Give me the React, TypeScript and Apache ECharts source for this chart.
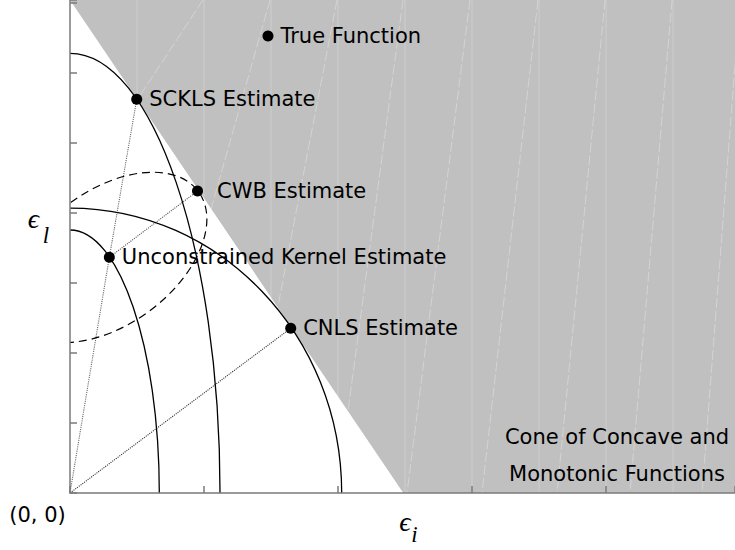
import React, { useEffect, useRef } from "react";
import * as echarts from "echarts";

// ---- axis extents (x in grid units, y in tick units) ----
const xMax = 9.925;
const yMax = 7.043;
const xTickInterval = 2;
const yTickInterval = 1;

// ---- estimates (points) ----
const pointNames = [
  "True Function",
  "SCKLS Estimate",
  "CWB Estimate",
  "Unconstrained Kernel Estimate",
  "CNLS Estimate",
];
const pointX = [2.955, 0.996, 1.903, 0.587, 3.294];
const pointY = [6.529, 5.624, 4.314, 3.367, 2.353];

// ---- contour curves (quarter ellipses about the origin), intercepts ----
const contourXIntercepts = [2.239, 4.055, 1.333];
const contourYIntercepts = [6.281, 4.071, 3.757];

// ---- dashed confidence ellipse around the unconstrained estimate ----
const ellipseSemiMajor = [1.652];
const ellipseSemiMinor = [1.0];
const ellipseAngleDeg = [36.5];

// ---- cone of concave and monotonic functions ----
const coneX = [0, 4.975, xMax, xMax];
const coneY = [yMax, 0, 0, yMax];

// ---- faint lines inside the cone ----
const gridLineX = [1, 2, 3, 4, 5, 6, 7, 8, 9];
const slantTopX = [1.985, 2.985, 3.985, 4.97, 5.97, 6.985, 7.985, 8.985, 10.0];
const slantBottomX = [-2.866, 0.91, 2.567, 3.985, 5.03, 6.149, 7.269, 8.358, 9.433];

const SANS = '"DejaVu Sans", sans-serif';
const SERIF = '"Liberation Serif", "DejaVu Serif", serif';

export default function App() {
  const ref = useRef<HTMLDivElement>(null);

  useEffect(() => {
    const chart = echarts.init(ref.current as HTMLDivElement, null, { renderer: "svg" });
    const pt = (name: string) => {
      const i = pointNames.indexOf(name);
      return [pointX[i], pointY[i]];
    };
    const origin = [0, 0];
    const U = pt("Unconstrained Kernel Estimate");

    const scatterData = pointNames.map((n, i) => ({
      name: n,
      value: [pointX[i], pointY[i]],
      label: n === "CWB Estimate" ? { distance: 14 } : undefined,
    }));

    const axisLine = { show: true, onZero: false, lineStyle: { color: "#7a7a7a", width: 1.5 } };
    const axisTick = { show: true, inside: true, length: 7, lineStyle: { color: "#7a7a7a", width: 1.5 } };

    const text = (x: number, y: number, t: string, font: string, extra: any = {}) => ({
      type: "text",
      x,
      y,
      z: 20,
      style: {
        text: t,
        fill: "#000",
        font,
        textAlign: "center",
        textVerticalAlign: "middle",
        align: "center",
        verticalAlign: "middle",
        ...extra,
      },
    });

    const option: any = {
      animation: false,
      backgroundColor: "#ffffff",
      grid: { left: 70, right: 0, top: 0, bottom: 57, containLabel: false },
      xAxis: {
        type: "value",
        min: 0,
        max: xMax,
        interval: xTickInterval,
        z: 10,
        axisLine,
        axisTick,
        axisLabel: { show: false },
        splitLine: { show: false },
      },
      yAxis: {
        type: "value",
        min: 0,
        max: yMax,
        interval: yTickInterval,
        z: 10,
        axisLine,
        axisTick,
        axisLabel: { show: false },
        splitLine: { show: false },
      },
      series: [
        {
          type: "custom",
          name: "cone",
          coordinateSystem: "cartesian2d",
          silent: true,
          z: 1,
          clip: true,
          data: [[0, 0]],
          encode: { x: 0, y: 1 },
          renderItem: (_p: any, api: any) => ({
            type: "polygon",
            shape: { points: coneX.map((x, i) => api.coord([x, coneY[i]])) },
            style: { fill: "#c0c0c0", stroke: "none" },
          }),
        },
        {
          type: "custom",
          name: "gridlines",
          coordinateSystem: "cartesian2d",
          silent: true,
          z: 2,
          clip: true,
          data: gridLineX.map((x) => [x, 0, x, yMax]),
          encode: { x: [0, 2], y: [1, 3] },
          renderItem: (_p: any, api: any) => {
            const a = api.coord([api.value(0), api.value(1)]);
            const b = api.coord([api.value(2), api.value(3)]);
            return {
              type: "line",
              shape: { x1: a[0], y1: a[1], x2: b[0], y2: b[1] },
              style: { stroke: "rgba(255,255,255,0.22)", lineWidth: 1 },
            };
          },
        },
        {
          type: "custom",
          name: "slants",
          coordinateSystem: "cartesian2d",
          silent: true,
          z: 2,
          clip: true,
          data: slantTopX.map((x, i) => [x, yMax, slantBottomX[i], 0]),
          encode: { x: [0, 2], y: [1, 3] },
          renderItem: (_p: any, api: any) => {
            const a = api.coord([api.value(0), api.value(1)]);
            const b = api.coord([api.value(2), api.value(3)]);
            return {
              type: "line",
              shape: { x1: a[0], y1: a[1], x2: b[0], y2: b[1] },
              style: { stroke: "rgba(255,255,255,0.3)", lineWidth: 1, lineDash: [10, 3] },
            };
          },
        },
        {
          type: "custom",
          name: "contours",
          coordinateSystem: "cartesian2d",
          silent: true,
          z: 4,
          clip: true,
          data: contourXIntercepts.map((x, i) => [x, contourYIntercepts[i]]),
          encode: { x: 0, y: 1 },
          renderItem: (_p: any, api: any) => {
            const o = api.coord([0, 0]);
            const rx = api.size([api.value(0), 0])[0];
            const ry = api.size([0, api.value(1)])[1];
            return {
              type: "ellipse",
              shape: { cx: o[0], cy: o[1], rx, ry },
              style: { fill: "none", stroke: "#000", lineWidth: 1.3 },
            };
          },
        },
        {
          type: "custom",
          name: "confidence",
          coordinateSystem: "cartesian2d",
          silent: true,
          z: 4,
          clip: true,
          data: ellipseSemiMajor.map((a, i) => [U[0], U[1], a, ellipseSemiMinor[i], ellipseAngleDeg[i]]),
          encode: { x: 0, y: 1 },
          renderItem: (_p: any, api: any) => {
            const c = api.coord([api.value(0), api.value(1)]);
            const rx = api.size([api.value(2), 0])[0];
            const ry = api.size([api.value(3), 0])[0];
            return {
              type: "ellipse",
              x: c[0],
              y: c[1],
              rotation: (api.value(4) * Math.PI) / 180,
              shape: { cx: 0, cy: 0, rx, ry },
              style: { fill: "none", stroke: "#000", lineWidth: 1.2, lineDash: [8, 5] },
            };
          },
        },
        {
          type: "line",
          name: "path-sckls",
          z: 3,
          symbol: "none",
          silent: true,
          data: [origin, U, pt("SCKLS Estimate")],
          lineStyle: { type: "dotted", color: "#666", width: 1.1 },
        },
        {
          type: "line",
          name: "path-cwb",
          z: 3,
          symbol: "none",
          silent: true,
          data: [U, pt("CWB Estimate")],
          lineStyle: { type: "dotted", color: "#555", width: 1.1 },
        },
        {
          type: "line",
          name: "path-cnls",
          z: 3,
          symbol: "none",
          silent: true,
          data: [origin, pt("CNLS Estimate")],
          lineStyle: { type: "dotted", color: "#333", width: 1.1 },
        },
        {
          type: "scatter",
          name: "estimates",
          z: 6,
          symbol: "circle",
          symbolSize: 11,
          itemStyle: { color: "#000", opacity: 1 },
          data: scatterData,
          label: {
            show: true,
            position: "right",
            distance: 7,
            formatter: "{b}",
            color: "#000",
            opacity: 1,
            fontSize: 21,
            fontFamily: SANS,
          },
        },
      ],
      graphic: [
        text(37.5, 515, "(0, 0)", `21px ${SANS}`),
        text(617, 455, "Cone of Concave and\nMonotonic Functions", `21px ${SANS}`, { lineHeight: 37 }),
        text(33.5, 218, "ϵ", `italic 28px ${SERIF}`),
        text(46, 235, "l", `italic 23px ${SERIF}`),
        text(405, 521, "ϵ", `italic 28px ${SERIF}`),
        text(414.5, 534, "i", `italic 23px ${SERIF}`),
      ],
    };

    chart.setOption(option);
    return () => chart.dispose();
  }, []);

  return (
    <div
      ref={ref}
      style={{ position: "fixed", left: 0, top: 0, width: 735, height: 550, background: "#fff" }}
    />
  );
}
